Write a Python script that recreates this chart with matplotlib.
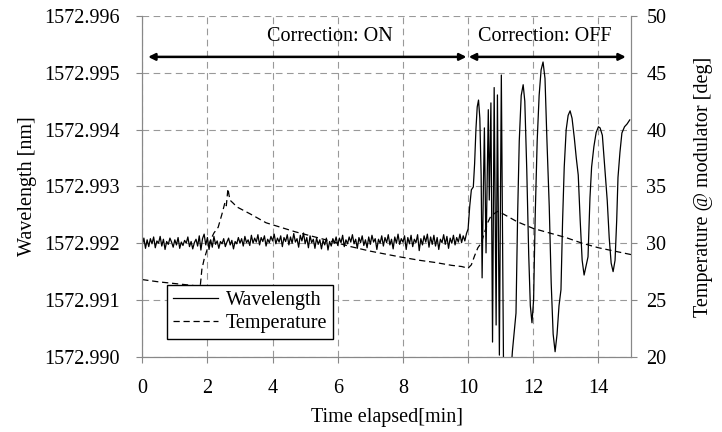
import numpy as np
import matplotlib
matplotlib.use("Agg")
import matplotlib.pyplot as plt
import matplotlib.ticker as mticker

plt.rcParams['font.family'] = ['Liberation Serif', 'DejaVu Serif']
fs = 14.5

# wavelength while correction is ON, sampled every 0.05 min from 0 to 9.95
t_on = np.round(np.arange(0, 10.0, 0.05), 2)
wl_on = [1572.99197, 1572.99209, 1572.99191, 1572.99206, 1572.99194, 1572.99208, 1572.99199, 1572.99211, 1572.99192, 1572.99204,
         1572.99200, 1572.99212, 1572.99195, 1572.99207, 1572.99189, 1572.99203, 1572.99198, 1572.99209, 1572.99202, 1572.99193,
         1572.99206, 1572.99197, 1572.99210, 1572.99191, 1572.99202, 1572.99196, 1572.99205, 1572.99200, 1572.99211, 1572.99194,
         1572.99203, 1572.99190, 1572.99201, 1572.99207, 1572.99195, 1572.99213, 1572.99188, 1572.99208, 1572.99216, 1572.99197,
         1572.99210, 1572.99189, 1572.99206, 1572.99193, 1572.99212, 1572.99198, 1572.99204, 1572.99191, 1572.99203, 1572.99199,
         1572.99208, 1572.99194, 1572.99202, 1572.99209, 1572.99197, 1572.99205, 1572.99190, 1572.99203, 1572.99199, 1572.99210,
         1572.99200, 1572.99208, 1572.99195, 1572.99212, 1572.99201, 1572.99206, 1572.99196, 1572.99214, 1572.99200, 1572.99209,
         1572.99202, 1572.99215, 1572.99197, 1572.99210, 1572.99203, 1572.99213, 1572.99195, 1572.99207, 1572.99201, 1572.99212,
         1572.99204, 1572.99216, 1572.99199, 1572.99209, 1572.99202, 1572.99213, 1572.99194, 1572.99210, 1572.99203, 1572.99215,
         1572.99197, 1572.99211, 1572.99200, 1572.99217, 1572.99202, 1572.99208, 1572.99193, 1572.99214, 1572.99204, 1572.99218,
         1572.99199, 1572.99210, 1572.99192, 1572.99213, 1572.99201, 1572.99207, 1572.99191, 1572.99209, 1572.99198, 1572.99206,
         1572.99190, 1572.99205, 1572.99197, 1572.99209, 1572.99188, 1572.99203, 1572.99195, 1572.99208, 1572.99200, 1572.99211,
         1572.99196, 1572.99209, 1572.99201, 1572.99214, 1572.99194, 1572.99206, 1572.99199, 1572.99211, 1572.99202, 1572.99215,
         1572.99199, 1572.99207, 1572.99191, 1572.99210, 1572.99201, 1572.99213, 1572.99196, 1572.99206, 1572.99192, 1572.99211,
         1572.99198, 1572.99214, 1572.99202, 1572.99208, 1572.99189, 1572.99207, 1572.99200, 1572.99213, 1572.99195, 1572.99210,
         1572.99201, 1572.99215, 1572.99197, 1572.99207, 1572.99190, 1572.99211, 1572.99200, 1572.99216, 1572.99198, 1572.99208,
         1572.99202, 1572.99213, 1572.99189, 1572.99210, 1572.99199, 1572.99214, 1572.99194, 1572.99207, 1572.99201, 1572.99215,
         1572.99187, 1572.99208, 1572.99197, 1572.99213, 1572.99202, 1572.99216, 1572.99193, 1572.99211, 1572.99198, 1572.99214,
         1572.99195, 1572.99210, 1572.99189, 1572.99207, 1572.99201, 1572.99215, 1572.99198, 1572.99212, 1572.99191, 1572.99209,
         1572.99200, 1572.99214, 1572.99197, 1572.99210, 1572.99202, 1572.99216, 1572.99201, 1572.99213, 1572.99204, 1572.99217]

# wavelength after correction switched OFF
t_off = [10.00, 10.05, 10.10, 10.16, 10.20, 10.24, 10.28, 10.32, 10.36, 10.40, 10.43, 10.47, 10.50, 10.55,
         10.62, 10.65, 10.70, 10.75, 10.80, 10.86, 10.90, 10.96, 11.02, 11.09, 11.20, 11.30, 11.36, 11.47,
         11.52, 11.57, 11.63, 11.69, 11.74, 11.80, 11.86, 11.91, 11.96, 12.01, 12.06, 12.12, 12.18, 12.24,
         12.30, 12.36, 12.42, 12.49, 12.55, 12.61, 12.67, 12.73, 12.79, 12.85, 12.90, 12.95, 13.01, 13.07,
         13.13, 13.19, 13.26, 13.32, 13.38, 13.44, 13.50, 13.56, 13.62, 13.68, 13.74, 13.79, 13.86, 13.93,
         14.00, 14.05, 14.12, 14.20, 14.27, 14.33, 14.39, 14.45, 14.51, 14.56, 14.60, 14.66, 14.72, 14.80,
         14.88, 14.96]
wl_off = [1572.99225, 1572.99265, 1572.99294, 1572.99299, 1572.99340, 1572.99400, 1572.99440, 1572.99452,
          1572.99420, 1572.99320, 1572.99139, 1572.99300, 1572.99403, 1572.99183, 1572.99435, 1572.99276,
          1572.99447, 1572.99026, 1572.99474, 1572.99056, 1572.99461, 1572.99003, 1572.99496, 1572.98960,
          1572.98900, 1572.98960, 1572.99010, 1572.99077, 1572.99250, 1572.99380, 1572.99460, 1572.99479,
          1572.99450, 1572.99330, 1572.99180, 1572.99090, 1572.99060, 1572.99100, 1572.99250, 1572.99380,
          1572.99460, 1572.99505, 1572.99519, 1572.99490, 1572.99380, 1572.99265, 1572.99130, 1572.99040,
          1572.99009, 1572.99040, 1572.99090, 1572.99118, 1572.99240, 1572.99334, 1572.99400, 1572.99425,
          1572.99433, 1572.99420, 1572.99385, 1572.99350, 1572.99320, 1572.99240, 1572.99170, 1572.99144,
          1572.99160, 1572.99176, 1572.99280, 1572.99334, 1572.99370, 1572.99395, 1572.99405, 1572.99403,
          1572.99390, 1572.99330, 1572.99275, 1572.99210, 1572.99165, 1572.99150, 1572.99170, 1572.99240,
          1572.99316, 1572.99360, 1572.99394, 1572.99405, 1572.99410, 1572.99417]

# temperature at modulator [deg]
t_temp = [0.0, 0.5, 1.0, 1.5, 1.78, 1.83, 1.9, 2.02, 2.1, 2.2, 2.33, 2.45, 2.54, 2.58, 2.63, 2.69, 2.8, 2.9,
          3.3, 3.8, 4.7, 5.5, 6.4, 7.0, 7.9, 8.5, 9.0, 9.5, 9.8, 10.0, 10.1, 10.2, 10.3, 10.4, 10.5, 10.6,
          10.7, 10.8, 10.9, 11.0, 11.5, 12.0, 12.5, 13.0, 13.5, 14.0, 14.5, 15.0]
temp = [26.8, 26.6, 26.45, 26.3, 26.2, 27.7, 28.6, 29.7, 30.3, 30.9, 31.4, 32.6, 33.6, 33.3, 34.8, 33.8, 33.5, 33.2,
        32.6, 31.8, 31.0, 30.4, 29.7, 29.3, 28.8, 28.5, 28.3, 28.05, 27.95, 27.8, 28.1, 28.9, 29.6, 30.0, 30.9, 31.8,
        32.4, 32.6, 32.8, 32.7, 31.9, 31.3, 30.9, 30.5, 30.0, 29.6, 29.3, 29.0]

grid_c = '#999999'
spine_c = '#888888'

fig = plt.figure(figsize=(7.22, 4.32), dpi=100)
ax = fig.add_axes([0.197, 0.174, 0.677, 0.789])
ax2 = ax.twinx()

l1, = ax.plot(list(t_on) + t_off, wl_on + wl_off, color='black', lw=0.9, label='Wavelength')
l2, = ax2.plot(t_temp, temp, color='black', lw=0.9, ls=(0, (5, 3)), label='Temperature')

ax.set_xlim(0, 15)
ax.set_ylim(1572.990, 1572.996)
ax2.set_ylim(20, 50)
ax.set_xticks(np.arange(0, 16, 2))
ax.yaxis.set_major_locator(mticker.MultipleLocator(0.001))
ax.yaxis.set_major_formatter(mticker.FormatStrFormatter('%.3f'))
ax2.set_yticks(np.arange(20, 51, 5))

ax.grid(True, color=grid_c, ls=(0, (6, 4)), lw=0.8)
ax.set_axisbelow(True)
for a in (ax, ax2):
    a.spines['top'].set_visible(False)
    for s in ('left', 'right', 'bottom'):
        a.spines[s].set_color(spine_c)
ax.tick_params(direction='out', length=4, color=spine_c, labelsize=fs, pad=12)
ax2.tick_params(direction='out', length=4, color=spine_c, labelsize=fs, pad=7)

ax.set_xlabel('Time elapsed[min]', fontsize=fs, labelpad=7)
ax.set_ylabel('Wavelength [nm]', fontsize=fs, labelpad=5)
ax2.set_ylabel('Temperature @ modulator [deg]', fontsize=fs, labelpad=20)

# correction arrows
ax.annotate('', xy=(0.18, 1572.99528), xytext=(9.95, 1572.99528),
            arrowprops=dict(arrowstyle='<|-|>', color='black', lw=1.8, mutation_scale=10, shrinkA=0, shrinkB=0))
ax.annotate('', xy=(10.02, 1572.99528), xytext=(14.84, 1572.99528),
            arrowprops=dict(arrowstyle='<|-|>', color='black', lw=1.8, mutation_scale=10, shrinkA=0, shrinkB=0))
ax.text(5.75, 1572.99564, 'Correction: ON', ha='center', va='center', fontsize=fs)
ax.text(12.35, 1572.99564, 'Correction: OFF', ha='center', va='center', fontsize=fs)

leg = ax2.legend(handles=[l1, l2], loc='upper left', bbox_to_anchor=(0.051, 0.211), fontsize=fs,
                 fancybox=False, framealpha=1, edgecolor='black', borderpad=0.3, labelspacing=0.2,
                 handlelength=2.2, handletextpad=0.4, borderaxespad=0)
leg.get_frame().set_linewidth(1.0)

fig.savefig('out.png', dpi=100)
